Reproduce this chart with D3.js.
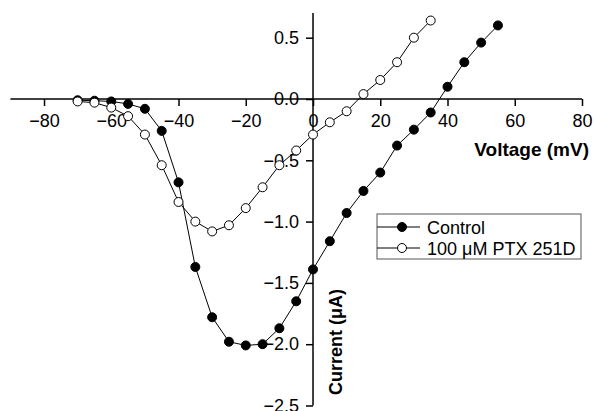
<!DOCTYPE html>
<html>
<head>
<meta charset="utf-8">
<script src="https://cdn.jsdelivr.net/npm/d3@7"></script>
<style>
  body { margin: 0; background: #fff; }
  text { font-family: "Liberation Sans", Arial, sans-serif; }
</style>
</head>
<body>
<script>
//// Data ////
const voltage = [-70, -65, -60, -55, -50, -45, -40, -35, -30, -25, -20, -15, -10, -5,
                 0, 5, 10, 15, 20, 25, 30, 35, 40, 45, 50, 55]
const control = [-0.01, -0.014, -0.02, -0.04, -0.08, -0.26, -0.68, -1.37, -1.78, -1.98, -2.01, -2.0, -1.87, -1.65,
                 -1.39, -1.16, -0.93, -0.75, -0.60, -0.38, -0.25, -0.11, 0.10, 0.30, 0.46, 0.60]

const voltagePtx = [-70, -65, -60, -55, -50, -45, -40, -35, -30, -25, -20, -15, -10, -5,
                    0, 5, 10, 15, 20, 25, 30, 35]
const ptx = [-0.02, -0.03, -0.07, -0.14, -0.29, -0.54, -0.84, -1.0, -1.08, -1.03, -0.89, -0.72, -0.54, -0.42,
             -0.29, -0.19, -0.10, 0.04, 0.155, 0.30, 0.50, 0.64]

const xMajor = [-80, -60, -40, -20, 0, 20, 40, 60, 80]
const xMinor = [-90, -70, -50, -30, -10, 10, 30, 50, 70]
const yMajor = [0.5, 0.0, -0.5, -1.0, -1.5, -2.0, -2.5]
const yMinor = [0.25, -0.25, -0.75, -1.25, -1.75, -2.25]

const seriesNames = ["Control", "100 μM PTX 251D"]

//// Drawing area ////
const WIDTH = 594
const HEIGHT = 411

const x = d3.scaleLinear().domain([-90, 80]).range([10.4, 582])
const y = d3.scaleLinear().domain([0, -2.5]).range([99, 405.5])

const svg = d3.select("body").append("svg")
    .attr("width", WIDTH)
    .attr("height", HEIGHT)

// x axis (through zero current)
const gx = svg.append("g").attr("transform", `translate(0,${y(0)})`)
gx.call(d3.axisBottom(x).tickValues(xMinor).tickSize(4).tickSizeOuter(0).tickFormat(""))
gx.call(d3.axisBottom(x).tickValues(xMajor).tickSize(7).tickSizeOuter(0).tickPadding(8).tickFormat(d3.format("d")))
gx.selectAll("path, line").attr("stroke", "#000").attr("stroke-width", 1.5)
gx.selectAll("path").attr("d", `M${x(-90)},0H${x(80)}`)
gx.selectAll("text").attr("font-size", 18).attr("font-family", "Liberation Sans, Arial, sans-serif")

// y axis (through zero voltage)
const gy = svg.append("g").attr("transform", `translate(${x(0)},0)`)
gy.call(d3.axisLeft(y).tickValues(yMinor).tickSize(4).tickSizeOuter(0).tickFormat(""))
gy.call(d3.axisLeft(y).tickValues(yMajor).tickSize(7).tickSizeOuter(0).tickPadding(7).tickFormat(d3.format(".1f")))
gy.selectAll("path, line").attr("stroke", "#000").attr("stroke-width", 1.5)
gy.selectAll("path").attr("d", `M0,13V${y(-2.5)}`)
gy.selectAll("text").attr("font-size", 18).attr("font-family", "Liberation Sans, Arial, sans-serif")

// axis titles
svg.append("text")
    .attr("x", 589).attr("y", 156)
    .attr("text-anchor", "end")
    .attr("font-size", 19).attr("font-weight", "bold")
    .text("Voltage (mV)")

svg.append("text")
    .attr("transform", "translate(342,395) rotate(-90)")
    .attr("font-size", 18).attr("font-weight", "bold")
    .text("Current (μA)")

// series
const line = d3.line().x(d => x(d[0])).y(d => y(d[1]))
const ctrlPts = voltage.map((v, i) => [v, control[i]])
const ptxPts = voltagePtx.map((v, i) => [v, ptx[i]])

function drawSeries(pts, fill) {
    svg.append("path").datum(pts)
        .attr("d", line)
        .attr("fill", "none").attr("stroke", "#000").attr("stroke-width", 1)
    svg.append("g").selectAll("circle").data(pts).join("circle")
        .attr("cx", d => x(d[0])).attr("cy", d => y(d[1]))
        .attr("r", 4.5)
        .attr("fill", fill).attr("stroke", "#000").attr("stroke-width", 1)
}
drawSeries(ctrlPts, "#000")
drawSeries(ptxPts, "#fff")

// legend
const lg = svg.append("g").attr("transform", "translate(377,214)")
lg.append("rect").attr("width", 204).attr("height", 45)
    .attr("fill", "#fff").attr("stroke", "#555").attr("stroke-width", 1)
seriesNames.forEach((name, i) => {
    const cy = 13 + i * 21
    lg.append("line").attr("x1", 0).attr("x2", 43).attr("y1", cy).attr("y2", cy)
        .attr("stroke", "#000").attr("stroke-width", 1)
    lg.append("circle").attr("cx", 25).attr("cy", cy).attr("r", 4.5)
        .attr("fill", i === 0 ? "#000" : "#fff").attr("stroke", "#000")
    lg.append("text").attr("x", 50).attr("y", cy + 6.5)
        .attr("font-size", 18).text(name)
})
</script>
</body>
</html>
